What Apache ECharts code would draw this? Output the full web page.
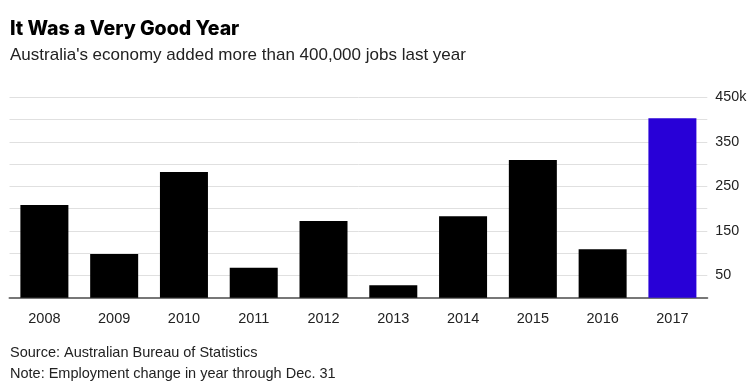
<!DOCTYPE html>
<html><head><meta charset="utf-8">
<script src="https://cdn.jsdelivr.net/npm/echarts@6/dist/echarts.min.js"></script>
<style>html,body{margin:0;padding:0;background:#fff}#c{width:750px;height:381px}</style>
</head><body><div id="c"></div>
<script>
const years = ['2008','2009','2010','2011','2012','2013','2014','2015','2016','2017'];
const jobsK = [208, 98, 282, 67, 172, 28, 183, 309, 109, 403];
const highlightYear = '2017';
const yTickLabels = {50:'50',150:'150',250:'250',350:'350',450:'450k'};

const chart = echarts.init(document.getElementById('c'), null, {renderer:'canvas'});
chart.setOption({
  animation:false,
  backgroundColor:'#fff',
  title:[
    {text:'It Was a Very Good Year', left:10, top:19, padding:0,
     textStyle:{fontFamily:'Inter', fontWeight:800, fontSize:19.5, color:'#000'}},
    {text:"Australia's economy added more than 400,000 jobs last year", left:10, top:47, padding:0,
     textStyle:{fontFamily:'Liberation Sans', fontWeight:'normal', fontSize:17, color:'#222'}},
    {text:'Source: Australian Bureau of Statistics', left:10, top:345, padding:0,
     textStyle:{fontFamily:'Liberation Sans', fontWeight:'normal', fontSize:14.5, color:'#222'}},
    {text:'Note: Employment change in year through Dec. 31', left:10, top:366, padding:0,
     textStyle:{fontFamily:'Liberation Sans', fontWeight:'normal', fontSize:14.5, color:'#222'}}
  ],
  grid:{left:9.5, right:42.7, top:97.3, bottom:83.3, containLabel:false},
  xAxis:{
    type:'category', data:years,
    axisLine:{lineStyle:{color:'#777', width:2}},
    axisTick:{alignWithLabel:true, length:5, lineStyle:{color:'#000', width:1}},
    axisLabel:{fontFamily:'Liberation Sans', fontSize:14.5, color:'#222', margin:14}
  },
  yAxis:{
    type:'value', position:'right', min:0, max:450, interval:50,
    axisLine:{show:false}, axisTick:{show:false},
    splitLine:{lineStyle:{color:'#e0e0e0', width:1}},
    axisLabel:{fontFamily:'Liberation Sans', fontSize:14.3, color:'#222', margin:8,
      formatter:v=>yTickLabels[v]||''}
  },
  series:[{
    type:'bar', barWidth:48,
    data:years.map((y,i)=>({value:jobsK[i], itemStyle:{color: y===highlightYear ? '#2800d7' : '#000'}}))
  }]
});
</script></body></html>
